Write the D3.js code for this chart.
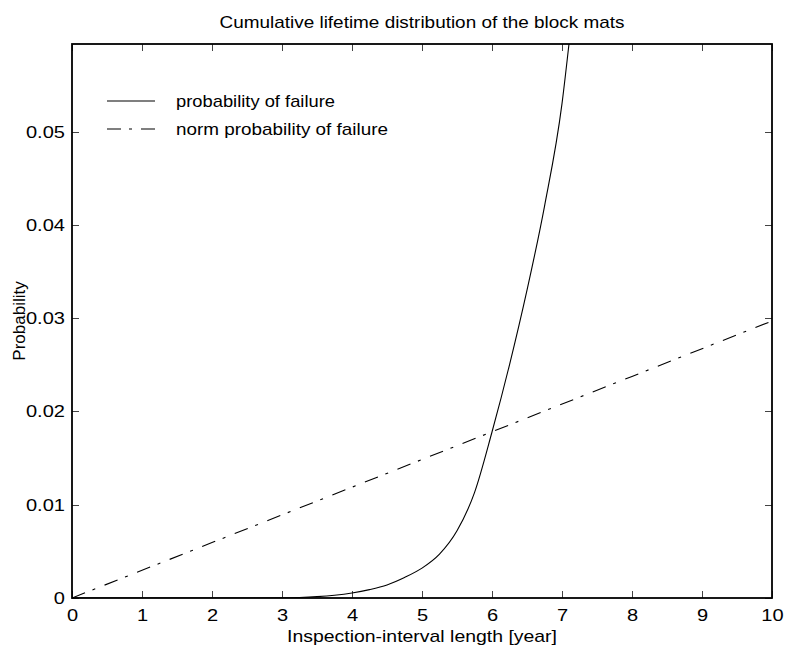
<!DOCTYPE html>
<head>
  <meta charset="utf-8">
  <title>Cumulative lifetime distribution</title>
</head>
<style>
body {
  margin: 0;
  background: #fff;
  font-family: "Liberation Sans", Arial, sans-serif;
}
.tick line {
  stroke: #444;
  shape-rendering: crispEdges;
}
.tick text {
  font-size: 17px;
  fill: #000;
}
</style>
<body>
<div id="chart"></div>
<script src="https://cdnjs.cloudflare.com/ajax/libs/d3/7.8.5/d3.min.js"></script>
<script>

// data
var xTicks = [0, 1, 2, 3, 4, 5, 6, 7, 8, 9, 10];
var yTicks = [0, 0.01, 0.02, 0.03, 0.04, 0.05];

// probability of failure (solid curve)
var failX = [0, 1, 2, 3, 3.25, 3.5, 3.75, 4, 4.25, 4.5, 4.75, 5, 5.25, 5.5, 5.75, 6, 6.25, 6.5, 6.75, 7, 7.1, 7.2];
var failY = [0, 0, 0, 0.00002, 0.00006, 0.00015, 0.0003, 0.00054, 0.0009, 0.0014, 0.0022, 0.0032, 0.0047, 0.0072, 0.0113, 0.0178, 0.025, 0.033, 0.042, 0.053, 0.0594, 0.066];

// norm probability of failure (dash-dot line)
var normX = [0, 2, 4, 6, 8, 10];
var normY = [0, 0.00594, 0.01188, 0.01782, 0.02376, 0.0297];

var legendLabels = ["probability of failure", "norm probability of failure"];
var legendWidths = [159, 212];

var margin = {top: 44, right: 14, bottom: 54, left: 72},
    width = 786 - margin.left - margin.right,
    height = 652 - margin.top - margin.bottom;

var svg = d3.select("#chart")
    .append("svg")
    .attr("width", 786)
    .attr("height", 652);

var g = svg.append("g")
    .attr("transform", "translate(" + margin.left + "," + margin.top + ")");

var xScale = d3.scaleLinear().domain([0, 10]).range([0, width]);
var yScale = d3.scaleLinear().domain([0, 0.0594]).range([height, 0]);

var yFmt = function(d) { return d === 0 ? "0" : d.toFixed(2); };

// the reference font is a bit wider than Liberation Sans
var widen = function(a) {
  a.select(".domain").remove();
  a.selectAll(".tick text").attr("transform", "scale(1.18,1)");
};

// axes, ticks pointing inward
g.append("g")
    .attr("transform", "translate(0," + height + ")")
    .call(d3.axisBottom(xScale).tickValues(xTicks).tickSize(-7).tickPadding(11))
    .call(widen);

g.append("g")
    .call(d3.axisLeft(yScale).tickValues(yTicks).tickSize(-7).tickPadding(6).tickFormat(yFmt))
    .call(widen);

g.append("g")
    .call(d3.axisTop(xScale).tickValues(xTicks).tickSize(-7).tickFormat(""))
    .call(function(a) { a.select(".domain").remove(); });

g.append("g")
    .attr("transform", "translate(" + width + ",0)")
    .call(d3.axisRight(yScale).tickValues(yTicks).tickSize(-7).tickFormat(""))
    .call(function(a) { a.select(".domain").remove(); });

// clip the curves to the plot box
g.append("clipPath").attr("id", "clip")
  .append("rect").attr("width", width).attr("height", height);

var line = d3.line()
    .x(function(d) { return xScale(d[0]); })
    .y(function(d) { return yScale(d[1]); });

var failData = failX.map(function(x, i) { return [x, failY[i]]; });
var normData = normX.map(function(x, i) { return [x, normY[i]]; });

g.append("path")
    .datum(failData)
    .attr("clip-path", "url(#clip)")
    .attr("fill", "none")
    .attr("stroke", "#000")
    .attr("stroke-width", 1.1)
    .attr("d", line.curve(d3.curveMonotoneX));

g.append("path")
    .datum(normData)
    .attr("clip-path", "url(#clip)")
    .attr("fill", "none")
    .attr("stroke", "#000")
    .attr("stroke-width", 1.1)
    .attr("stroke-dasharray", "14,8,3,10")
    .attr("d", line.curve(d3.curveLinear));

// box
g.append("rect")
    .attr("width", width)
    .attr("height", height)
    .attr("fill", "none")
    .attr("stroke", "#000")
    .attr("stroke-width", 1.8);

// legend
var legend = g.append("g").attr("transform", "translate(35,57)");
legendLabels.forEach(function(lbl, i) {
  legend.append("line")
      .attr("x1", 0).attr("x2", 48)
      .attr("y1", i * 28).attr("y2", i * 28)
      .attr("stroke", "#000")
      .attr("stroke-width", 1.1)
      .attr("stroke-dasharray", i === 1 ? "14,8,3,9" : null);
  legend.append("text")
      .attr("x", 69)
      .attr("y", i * 28)
      .attr("dy", "0.35em")
      .attr("textLength", legendWidths[i])
      .attr("lengthAdjust", "spacingAndGlyphs")
      .style("font-size", "17px")
      .text(lbl);
});

// title and axis labels
svg.append("text")
    .attr("x", margin.left + width / 2)
    .attr("y", 28)
    .attr("text-anchor", "middle")
    .attr("textLength", 405)
    .attr("lengthAdjust", "spacingAndGlyphs")
    .style("font-size", "17px")
    .text("Cumulative lifetime distribution of the block mats");

svg.append("text")
    .attr("x", margin.left + width / 2)
    .attr("y", 642)
    .attr("text-anchor", "middle")
    .attr("textLength", 270)
    .attr("lengthAdjust", "spacingAndGlyphs")
    .style("font-size", "17px")
    .text("Inspection-interval length [year]");

svg.append("text")
    .attr("transform", "rotate(-90)")
    .attr("x", -(margin.top + height / 2))
    .attr("y", 25)
    .attr("text-anchor", "middle")
    .style("font-size", "17px")
    .text("Probability");

</script>
</body>
